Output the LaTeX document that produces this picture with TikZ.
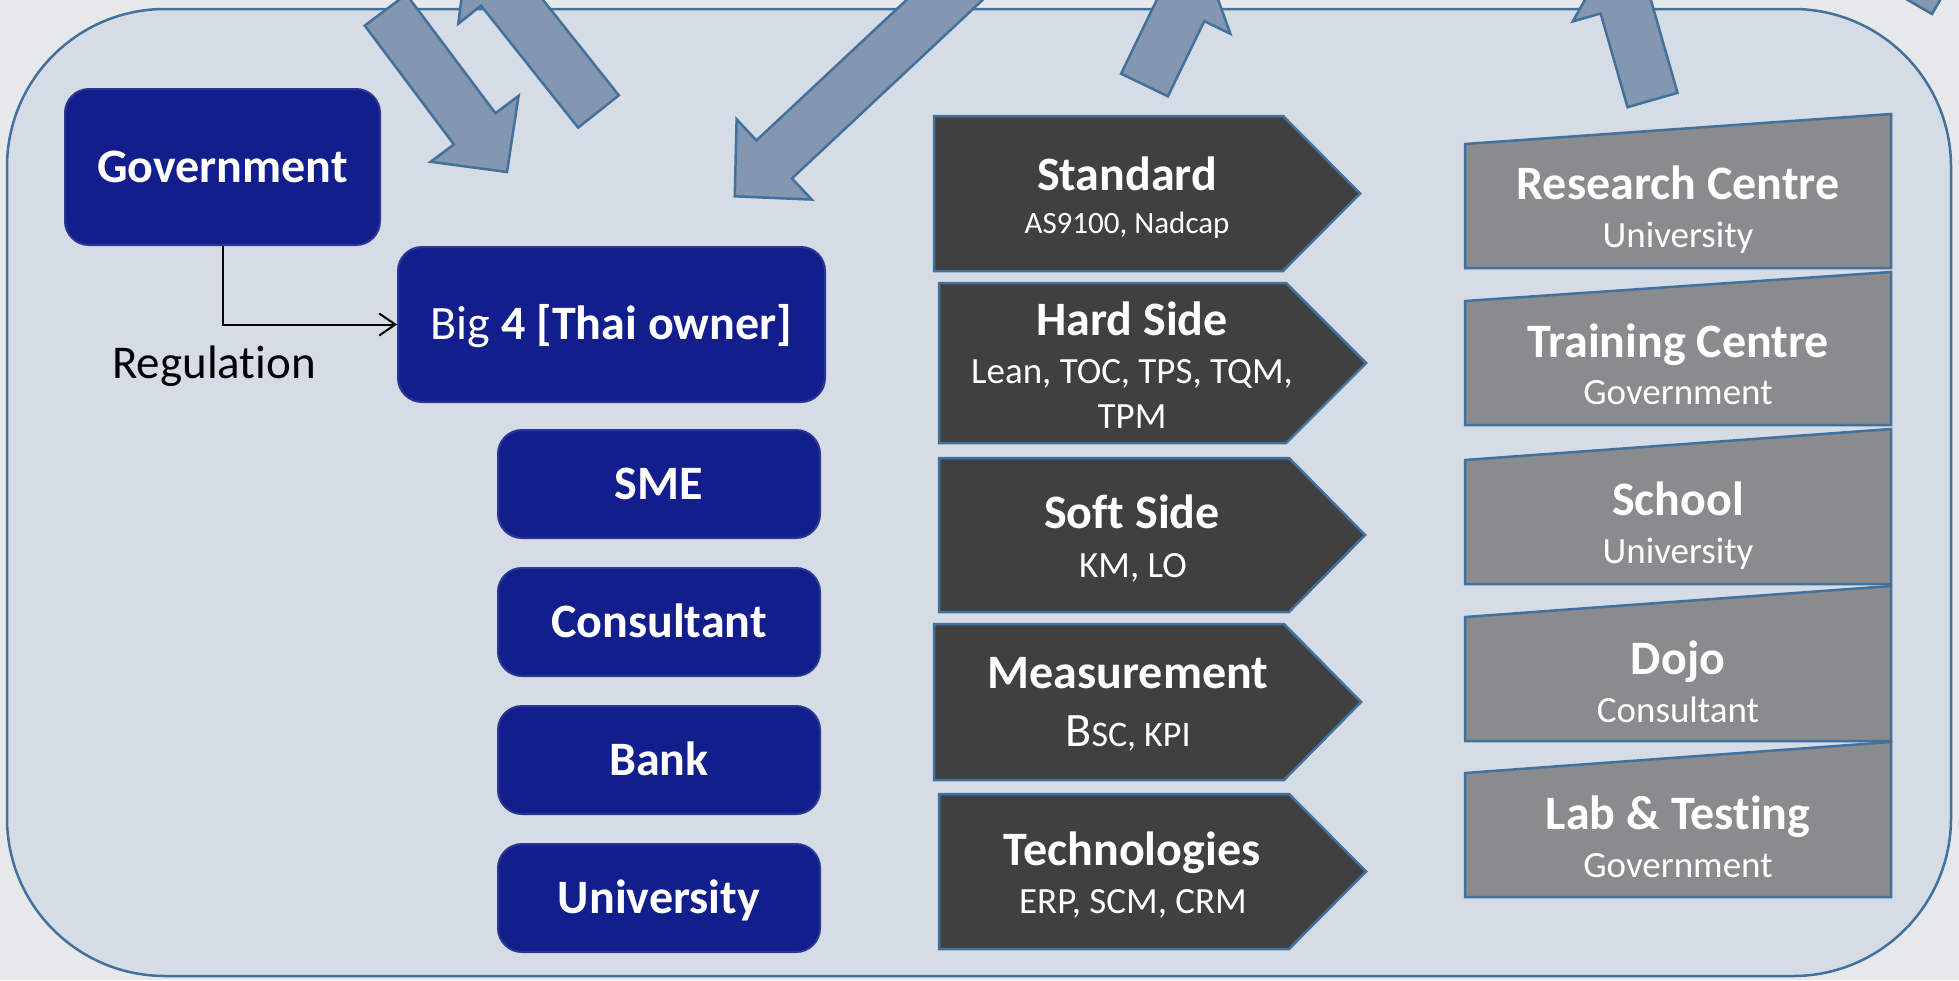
\documentclass[tikz,border=0pt]{standalone}
\usepackage{fontspec}
\setmainfont{Carlito}[Ligatures=NoCommon]
\usetikzlibrary{arrows.meta}
\definecolor{bgout}{HTML}{E7E8EA}
\definecolor{panel}{HTML}{D5DCE6}
\definecolor{edge}{HTML}{41719C}
\definecolor{navy}{HTML}{121E8C}
\definecolor{navyedge}{HTML}{2A3694}
\definecolor{darkbox}{HTML}{404040}
\definecolor{midbox}{HTML}{8A8B8D}
\definecolor{arrowfill}{HTML}{8497B0}
\tikzset{
  bluebox/.style={draw=navyedge, line width=2pt, fill=navy, rounded corners=24pt, text=white,
    font=\bfseries\fontsize{48}{52}\selectfont, text height=30pt, text depth=0pt, inner sep=0pt},
  blockarr/.style={draw=edge, line width=2.5pt, fill=arrowfill, line join=miter},
  penta/.style={draw=edge, line width=2.5pt, fill=darkbox},
  gbox/.style={draw=edge, line width=2.5pt, fill=midbox},
  ttl/.style={text=white, font=\bfseries\fontsize{48}{52}\selectfont, anchor=base, inner sep=0pt},
  subt/.style={text=white, font=\fontsize{37}{42}\selectfont, anchor=base, inner sep=0pt},
}
\newcommand\blockarrow[4]{%
  \begin{scope}[shift={(#1,#2)},rotate=#3]
    \draw[blockarr] (0,-26) -- ({#4-54},-26) -- ({#4-54},-55) -- (#4,0) -- ({#4-54},55) -- ({#4-54},26) -- (0,26) -- cycle;
  \end{scope}}
\begin{document}
\begin{tikzpicture}[x=1pt,y=-1pt]
\useasboundingbox (0,0) rectangle (1959,980);
\clip (0,0) rectangle (1959,980);
\fill[bgout] (0,0) rectangle (1959,980);
\draw[fill=panel, draw=edge, line width=2.5pt, rounded corners=158pt] (7,9) rectangle (1951,976);

% block arrows
\blockarrow{385.5}{10}{-53.13}{202.5}
\blockarrow{598.5}{111.5}{128.5}{210}
\blockarrow{983}{-36}{223.1}{340}
\blockarrow{1144.5}{85}{64.2}{137.5}
\blockarrow{1652.5}{100}{106}{151.5}
\blockarrow{1909.5}{1}{60}{150}

% left blue boxes
\node[bluebox, minimum width=315pt, minimum height=156pt] (gov) at (222.5,167) {Government};
\node[bluebox, minimum width=427pt, minimum height=155pt] (big4) at (611.5,324.5) {{\mdseries Big} 4 [Thai owner]};
\node[bluebox, minimum width=322pt, minimum height=108pt] (sme) at (659,484) {SME};
\node[bluebox, minimum width=322pt, minimum height=108pt] (cons) at (659,622) {Consultant};
\node[bluebox, minimum width=322pt, minimum height=108pt] (bank) at (659,760) {Bank};
\node[bluebox, minimum width=322pt, minimum height=108pt] (univ) at (659,898) {University};

\draw[line width=2pt, -{Straight Barb[length=16pt,width=22pt,line width=2pt]}] (gov.south) |- (big4.west);
\node[anchor=base, font=\fontsize{47}{52}\selectfont, inner sep=0pt] (reg) at (214,378) {Regulation};

% pentagons
\draw[penta] (934,116) -- (1283,116) -- (1360,193.5) -- (1283,271) -- (934,271) -- cycle;
\draw[penta] (939,283) -- (1286,283) -- (1366,363) -- (1286,443) -- (939,443) -- cycle;
\draw[penta] (939,458) -- (1289,458) -- (1365,535) -- (1289,612) -- (939,612) -- cycle;
\draw[penta] (934,624) -- (1284,624) -- (1361,702) -- (1284,780) -- (934,780) -- cycle;
\draw[penta] (939,794) -- (1289,794) -- (1366,871.5) -- (1289,949) -- (939,949) -- cycle;

\node[ttl] (std) at (1127,190) {Standard};
\node[subt, font=\fontsize{31}{36}\selectfont] (stds) at (1127,233) {AS9100, Nadcap};
\node[ttl] (hard) at (1132,335) {Hard Side};
\node[subt] (hards1) at (1132,383) {Lean, TOC, TPS, TQM,};
\node[subt] (hards2) at (1132,428) {TPM};
\node[ttl] (soft) at (1132,528) {Soft Side};
\node[subt] (softs) at (1133,577) {KM, LO};
\node[ttl] (meas) at (1128,688) {Measurement};
\node[subt] (meass) at (1128,746) {{\fontsize{48}{52}\selectfont B}{\fontsize{36}{40}\selectfont SC, KPI}};
\node[ttl] (tech) at (1132,865) {Technologies};
\node[subt] (techs) at (1133,913) {ERP, SCM, CRM};

% right boxes
\draw[gbox] (1465,144) -- (1891,114) -- (1891,268) -- (1465,268) -- cycle;
\draw[gbox] (1465,301) -- (1891,272) -- (1891,425) -- (1465,425) -- cycle;
\draw[gbox] (1465,460) -- (1891,429) -- (1891,584) -- (1465,584) -- cycle;
\draw[gbox] (1465,617) -- (1891,586) -- (1891,741) -- (1465,741) -- cycle;
\draw[gbox] (1465,773) -- (1891,742) -- (1891,897) -- (1465,897) -- cycle;

\node[ttl] (rc) at (1678,199) {Research Centre};
\node[subt] (rcs) at (1678,247) {University};
\node[ttl] (tc) at (1678,357) {Training Centre};
\node[subt] (tcs) at (1678,404) {Government};
\node[ttl] (sch) at (1678,515) {School};
\node[subt] (schs) at (1678,563) {University};
\node[ttl] (dojo) at (1678,674) {Dojo};
\node[subt] (dojos) at (1678,722) {Consultant};
\node[ttl] (lab) at (1678,829) {Lab \& Testing};
\node[subt] (labs) at (1678,877) {Government};
\end{tikzpicture}
\end{document}
